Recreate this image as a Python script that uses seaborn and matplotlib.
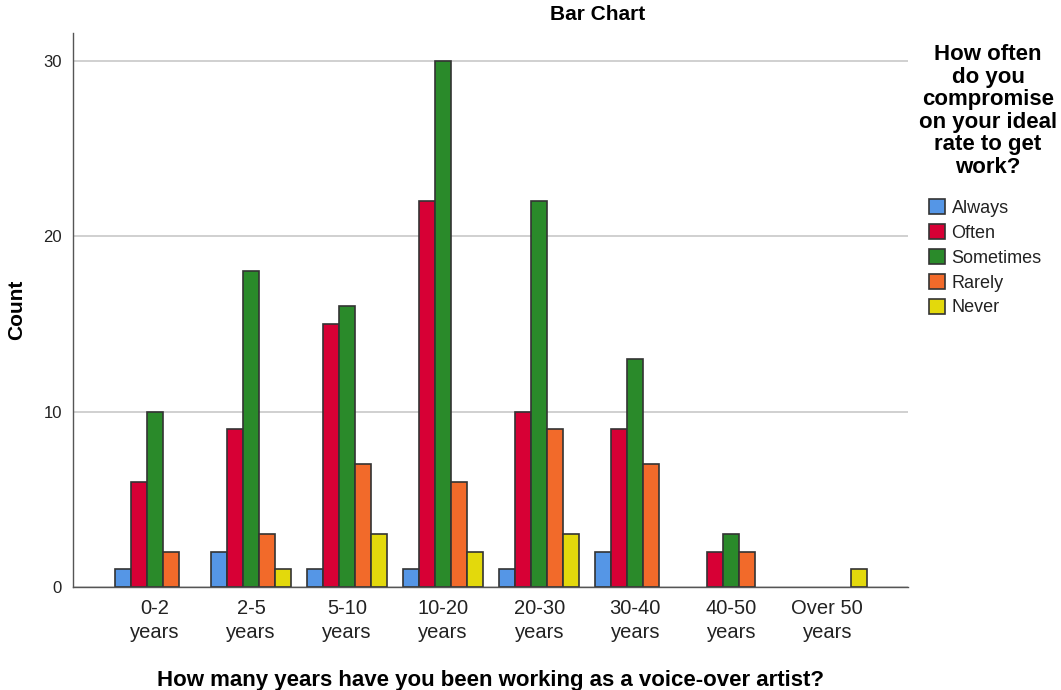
import matplotlib
matplotlib.use("Agg")
import matplotlib.pyplot as plt
import seaborn as sns
import pandas as pd
from matplotlib.patches import Patch

categories = ["0-2\nyears", "2-5\nyears", "5-10\nyears", "10-20\nyears",
              "20-30\nyears", "30-40\nyears", "40-50\nyears", "Over 50\nyears"]
responses = ["Always", "Often", "Sometimes", "Rarely", "Never"]
always = [1, 2, 1, 1, 1, 2, 0, 0]
often = [6, 9, 15, 22, 10, 9, 2, 0]
sometimes = [10, 18, 16, 30, 22, 13, 3, 0]
rarely = [2, 3, 7, 6, 9, 7, 2, 0]
never = [0, 1, 3, 2, 3, 0, 0, 1]
colors = ["#5596E6", "#D70035", "#2A8A2A", "#F26A2A", "#E3D90C"]

series = dict(zip(responses, [always, often, sometimes, rarely, never]))
rows = []
for r in responses:
    for c, v in zip(categories, series[r]):
        if v > 0:
            rows.append({"cat": c, "resp": r, "count": v})
df = pd.DataFrame(rows)

sns.set_style("white")
plt.rcParams['font.family'] = ['Liberation Sans', 'DejaVu Sans']

fig = plt.figure(figsize=(10.61, 6.90), dpi=100)
ax = fig.add_axes([73/1061, 1-587/690, (908-73)/1061, (587-33)/690])

sns.barplot(data=df, x="cat", y="count", hue="resp", order=categories,
            hue_order=responses, palette=colors, width=0.83, gap=0,
            edgecolor="#333333", linewidth=1.2, ax=ax, legend=False,
            errorbar=None, saturation=1)

ax.set_xlim(-0.855, 7.84)
ax.set_ylim(0, 31.6)
ax.set_yticks([0, 10, 20, 30])
ax.yaxis.grid(True, color="#c8c8c8", linewidth=1.2)
ax.set_axisbelow(True)
for s in ["top", "right"]:
    ax.spines[s].set_visible(False)
for s in ["left", "bottom"]:
    ax.spines[s].set_color("#555555")
    ax.spines[s].set_linewidth(1.0)
ax.tick_params(axis="x", labelsize=14.5, colors="#222222", length=0, pad=9)
ax.tick_params(axis="y", labelsize=12, colors="#222222", length=0, pad=8)
for t in ax.get_xticklabels():
    t.set_linespacing(1.3)
ax.set_xlabel("How many years have you been working as a voice-over artist?",
              fontsize=16, fontweight="bold", labelpad=20, color="black")
ax.set_ylabel("Count", fontsize=15, fontweight="bold", labelpad=12,
              color="black")

fig.text(598/1061, 1-15/690, "Bar Chart", ha="center", va="center",
         fontsize=15, fontweight="bold", color="black")

fig.text(988/1061, 1-44/690,
         "How often\ndo you\ncompromise\non your ideal\nrate to get\nwork?",
         ha="center", va="top", fontsize=16, fontweight="bold",
         linespacing=1.1, color="black")

handles = [Patch(facecolor=c, edgecolor="#333333", linewidth=1.2, label=r)
           for c, r in zip(colors, responses)]
leg = fig.legend(handles=handles, loc="upper left",
                 bbox_to_anchor=(929/1061, 1-199/690), frameon=False,
                 fontsize=13, handlelength=0.9, handleheight=0.9,
                 handletextpad=0.35, labelspacing=0.4, borderaxespad=0,
                 borderpad=0)
for t in leg.get_texts():
    t.set_color("#222222")

fig.savefig("out.png", dpi=100)
